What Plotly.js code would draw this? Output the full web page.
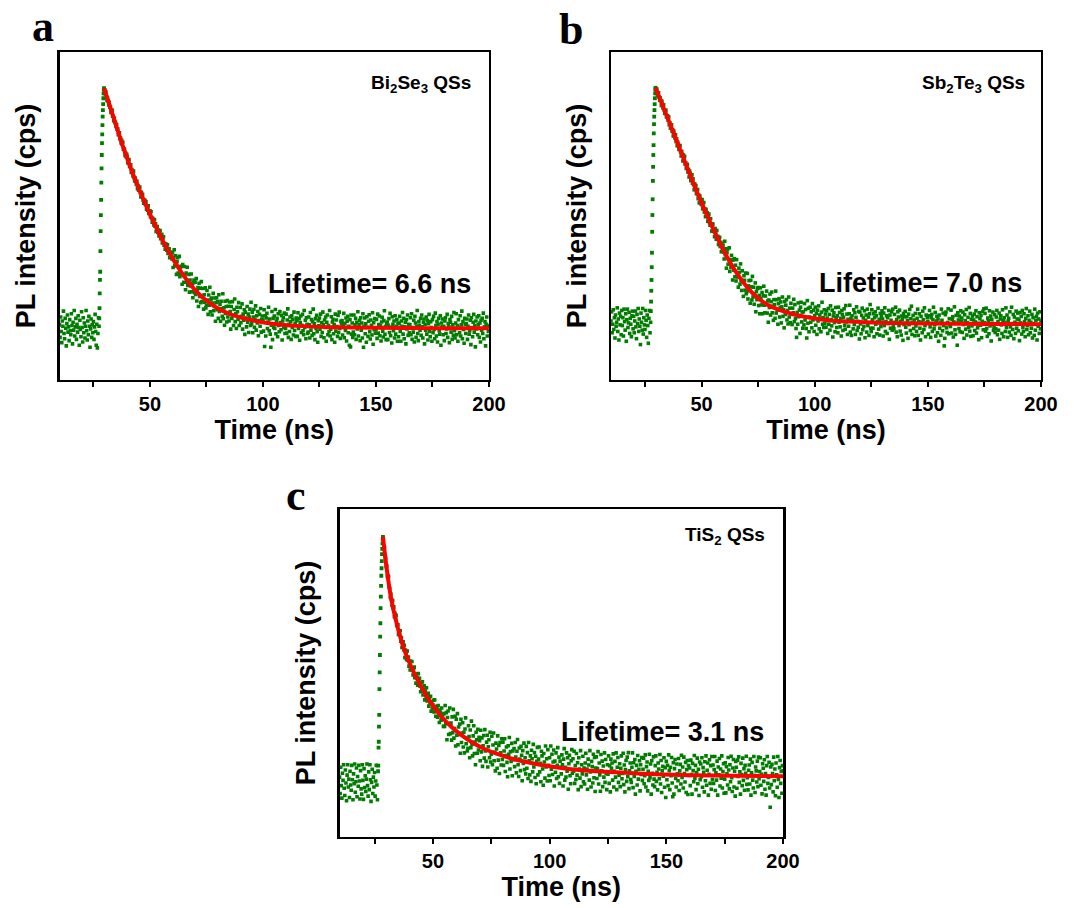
<!DOCTYPE html>
<html>
<head>
<meta charset="utf-8">
<script src="https://cdn.plot.ly/plotly-3.0.1.min.js"></script>
<style>html,body{margin:0;padding:0;background:#fff;}#chart{width:1082px;height:908px;}</style>
</head>
<body>
<div id="chart"></div>
<script>
// ---------- shared time axis ----------
const xTickValsNs = [50, 100, 150, 200];
const xMinorTickValsNs = [25, 75, 125, 175];
const channelWidthNs = 0.25;       // TCSPC channel width of the sampled counts
const preStartNs = 10.0;           // first channel of every pre-pulse array

// ---------- (a) Bi2Se3 QSs ----------
const biSePre = [168,130,192,148,114,180,164,210,142,126,188,158,104,172,198,146,162,120,184,150,
138,202,166,110,176,152,212,134,162,188,124,170,146,196,160,106,182,154,132,208,
160,116,190,144,174,128,164,212,150,122,180,138,194,164,100,156,186,130,168,144,
178,124,162,200,148,106,170,98,142,190,164];
const biSeRiseTime = [27.6,27.7,27.8,27.9,28.0,28.1,28.2,28.3,28.4,28.5,28.6,28.7,28.8,28.9,29.0,29.1,29.2,29.3,29.4,29.5,29.6,29.7,29.8];
const biSeRise = [188,219,264,305,330,393,454,503,549,602,645,686,722,749,777,803,823,841,859,874,887,890,884];
const biSeDecayStartNs = 30.0;
const biSeDecay = [885,872,879,864,852,860,851,839,847,832,834,816,821,823,804,804,791,799,785,786,
773,779,765,766,748,753,754,735,738,723,731,718,725,704,705,703,685,692,681,688,
681,662,669,672,652,651,656,633,642,636,622,637,617,607,616,608,596,606,583,593,
579,586,588,571,558,572,563,566,548,539,548,548,535,544,521,528,518,531,508,516,
516,497,513,494,481,493,485,473,489,469,476,453,465,468,450,457,439,447,456,431,
432,444,418,431,437,411,416,399,415,408,396,412,386,393,400,373,389,379,389,369,
388,343,374,397,348,379,351,322,361,373,326,346,377,315,344,324,347,292,352,319,
298,346,319,275,326,298,344,288,302,322,268,305,287,323,269,293,251,297,305,266,
298,261,309,241,273,282,224,295,255,280,236,300,239,255,279,216,260,237,281,220,
228,273,244,200,259,228,283,208,245,250,198,235,264,211,224,250,179,236,251,214,
239,188,260,209,230,179,240,217,194,263,187,220,167,240,203,224,177,242,192,225,
180,238,209,155,224,188,239,197,166,215,247,178,202,157,222,208,185,236,166,193,
221,175,194,232,155,201,182,214,139,207,189,162,224,176,201,145,192,216,166,237,
171,207,144,192,215,161,185,226,152,196,174,209,135,181,200,164,218,146,185,195,
183,149,214,102,196,134,189,203,157,177,222,150,186,140,100,167,209,123,188,160,
195,157,215,141,178,188,132,202,166,147,209,175,153,197,122,180,190,160,204,142,
157,201,143,183,217,130,170,148,192,178,124,196,160,185,137,207,151,173,133,189,
181,133,205,157,187,121,175,195,145,167,200,150,138,212,160,182,126,190,170,142,
146,192,168,128,206,152,184,136,178,216,141,171,123,187,157,197,147,115,181,165,
189,155,201,133,175,145,207,169,129,183,160,192,118,176,198,138,166,148,212,134,
155,193,123,177,185,141,169,115,201,149,183,163,133,197,145,207,157,127,179,171,
181,137,167,203,129,173,151,189,119,179,194,144,164,106,184,101,198,140,174,130,
146,198,138,168,188,124,176,156,208,134,170,182,120,190,152,174,128,202,100,164,
189,141,171,115,193,161,133,179,199,147,125,183,167,137,205,109,175,153,187,143,
155,185,127,201,143,169,195,135,165,119,177,191,149,131,181,211,139,163,123,173,
177,123,167,187,145,203,135,161,113,193,170,150,180,128,196,140,164,184,118,174,
132,172,194,148,118,180,164,206,140,188,126,162,176,110,184,156,198,136,170,144,
168,190,138,202,124,160,146,182,116,194,174,130,164,212,142,120,178,166,152,188,
136,198,162,128,176,186,110,170,152,192,140,182,122,172,200,148,132,178,160,118,
184,144,194,154,126,204,166,134,178,116,170,188,150,140,196,106,174,162,186,138,
164,120,180,190,142,156,200,130,172,162,114,184,176,146,194,124,168,136,206,150,
128,174,202,138,166,118,184,160,144,196,134,168,210,126,178,154,112,188,170,142,
172,186,124,164,198,140,150,182,108,190,160,132,176,200,146,166,101,180,156,192,
138,168,196,130,174,116,182,152,188,142,204,126,162,178,104,170,192,134,164,148,
166];
const biSeFitTime = [29.7,35.0,39.4,43.8,48.2,52.7,57.1,61.5,65.9,70.3,74.8,79.2,85.1,91.0,96.9,105,115,130,150,175,200];
const biSeFit = [890,777,686,605,534,466,406,354,309,272,243,222,202,189,180,171,165,161,159,158,158];

// ---------- (b) Sb2Te3 QSs ----------
const sbTePre = [180,208,144,170,214,154,190,128,198,164,176,220,148,186,122,204,168,194,138,212,
166,190,134,216,178,152,202,118,184,216,160,174,206,142,188,170,132,196,210,156,
194,144,180,210,162,126,200,172,218,148,186,164,108,204,176,152,218,140,190,168,
154,212,182,130,198,166,112,188,212,144,176];
const sbTeRiseTime = [27.6,27.7,27.8,27.9,28.0,28.1,28.2,28.3,28.4,28.5,28.6,28.7,28.8,28.9,29.0,29.1,29.2,29.3,29.4,29.5,29.6,29.7,29.8];
const sbTeRise = [210,239,272,305,344,388,452,503,551,607,650,686,716,752,780,803,823,841,859,874,887,891,885];
const sbTeDecayStartNs = 30.0;
const sbTeDecay = [881,887,868,875,876,862,853,860,852,837,850,840,829,839,823,813,821,823,802,805,
806,792,802,778,784,768,778,778,758,763,744,759,748,738,748,727,735,714,725,718,
703,713,715,695,683,697,688,668,686,672,682,658,662,645,657,657,634,642,619,637,
630,608,619,626,600,613,596,580,598,587,593,568,570,581,553,564,540,561,552,538,
535,550,522,530,541,512,522,498,520,502,510,484,498,506,480,472,492,476,454,476,
475,453,459,437,462,450,429,456,430,438,413,425,435,407,420,391,416,400,411,390,
369,423,382,400,341,388,399,353,368,403,331,366,343,380,366,305,366,335,370,315,
350,302,367,314,327,283,341,328,292,354,302,273,333,303,255,318,304,274,326,263,
269,325,247,287,303,273,234,304,284,244,316,253,283,231,263,296,208,270,245,279,
282,227,258,202,281,248,229,267,202,257,286,228,205,256,231,271,204,241,176,244,
221,262,198,239,268,205,225,182,245,230,188,271,204,245,213,170,233,248,192,221,
238,174,223,253,194,214,159,239,200,228,245,183,212,171,253,192,219,175,234,200,
169,219,205,246,178,230,187,157,130,206,170,235,193,213,142,222,237,177,207,158,
208,168,233,183,215,157,128,242,173,219,147,192,222,176,208,159,233,183,213,148,
196,222,167,203,139,213,180,226,156,198,187,147,207,237,170,190,160,214,173,201,
161,211,189,142,218,170,200,152,226,184,165,213,131,195,205,175,147,221,190,160,
196,144,222,176,206,162,188,134,212,200,151,191,217,167,155,227,177,201,139,185,
164,202,228,146,188,136,196,182,156,214,169,205,139,191,223,151,179,161,209,125,
207,171,141,197,219,153,189,163,211,129,182,198,146,216,166,192,136,202,230,158,
148,214,184,158,202,132,190,208,170,196,141,177,219,155,185,137,203,163,193,211,
186,134,204,166,220,148,178,196,142,190,172,212,124,198,158,182,208,152,216,162,
156,200,176,222,146,184,132,208,192,166,213,149,179,137,195,185,121,203,169,193,
209,161,143,193,181,127,201,169,215,151,187,225,139,175,197,157,183,135,203,165,
148,188,216,136,178,202,158,122,194,176,144,210,184,154,220,166,132,198,174,190,
178,140,196,212,162,130,190,200,148,184,222,156,168,206,134,180,194,144,186,118,
198,158,174,136,216,182,150,204,166,104,127,199,207,159,145,175,217,141,187,169,
163,213,143,185,193,131,177,223,153,139,197,173,106,205,183,157,195,147,211,179,
189,145,207,169,127,199,181,155,215,137,175,191,161,221,149,203,133,185,165,195,
135,183,201,151,177,211,143,193,159,173,123,205,187,167,197,129,179,209,153,217,
175,203,149,219,157,133,189,181,141,211,165,195,119,185,173,207,151,161,199,145,
156,192,212,138,178,152,204,124,186,196,168,142,214,182,132,190,176,148,220,160,
198,130,180,188,146,208,162,136,222,172,154,200,126,192,176,142,210,158,186,204,
150,184,120,206,174,194,140,212,160,148,202,178,132,188,218,154,166,196,138,182,
210,144,176,158,200,128,190,172,136,216,152,182,194,122,204,164,186,142,208,156,
180];
const sbTeFitTime = [29.7,34.9,39.3,43.8,48.2,52.7,57.1,61.5,66.0,70.4,74.9,79.3,83.8,89.7,95.6,105,115,130,150,175,200];
const sbTeFit = [890,801,724,645,569,498,432,372,321,281,250,229,215,202,193,183,178,174,172,171,170];

// ---------- (c) TiS2 QSs ----------
const tiSPre = [182,132,212,156,118,194,172,220,148,126,204,164,110,188,220,152,176,120,200,158,
142,218,174,113,192,162,222,136,168,210,122,184,154,218,170,115,202,146,130,220,
172,114,208,150,186,138,176,222,156,124,198,144,220,174,108,166,206,132,182,152,
196,124,170,218,158,113];
const tiSRiseTime = [26.5,26.6,26.7,26.8,26.9,27.0,27.1,27.2,27.3,27.4,27.5,27.6,27.7,27.8,27.9,28.0,28.1,28.2,28.3,28.4,28.5,28.6];
const tiSRise = [200,217,272,290,336,372,451,502,555,611,652,698,733,766,797,820,842,863,879,896,909,916];
const tiSDecayStartNs = 28.75;
const tiSDecay = [910,885,884,856,850,
825,827,795,798,794,763,759,731,741,724,706,721,697,702,672,682,667,676,645,648,
647,618,630,617,629,597,608,578,592,595,571,585,547,570,559,541,567,540,549,521,
537,509,535,511,535,508,494,513,518,486,497,469,497,485,463,498,464,484,460,443,
472,446,473,433,451,461,418,445,430,455,415,427,438,399,426,407,429,383,412,392,
403,417,381,418,383,368,398,390,365,401,375,349,387,379,356,393,359,373,337,376,
337,401,345,379,296,364,384,312,346,393,315,347,295,366,318,389,301,330,368,277,
359,310,376,281,335,312,344,255,359,288,317,348,274,319,256,329,363,284,301,262,
270,339,306,241,326,272,353,282,247,308,339,254,289,220,319,296,255,328,265,304,
293,232,325,259,302,215,278,309,240,327,262,230,289,310,213,275,296,241,319,228,
252,307,220,280,317,232,258,201,286,268,209,308,234,279,193,288,256,219,299,236,
289,218,262,299,199,248,274,227,183,278,252,303,207,260,230,285,186,262,235,269,
214,288,243,195,261,297,220,184,271,237,202,276,249,171,263,224,286,205,241,192,
276,209,257,178,288,232,189,247,169,264,238,198,282,213,257,181,246,162,230,273,
189,237,274,198,224,168,261,247,207,157,254,228,179,277,213,238,170,266,218,187,
241,171,277,206,252,190,228,265,155,231,197,256,178,218,272,183,243,163,231,212,
192,250,220,155,237,269,173,212,182,256,200,241,145,223,249,186,162,232,266,194,
238,200,261,163,217,175,254,188,226,144,241,207,179,263,153,220,192,246,168,210,
161,225,255,189,207,145,237,219,173,263,198,152,230,214,164,252,180,242,138,210,
244,178,208,260,161,225,189,139,251,201,231,153,216,182,256,166,236,194,144,220,
191,247,163,217,137,237,209,225,173,253,152,200,230,182,256,144,212,242,166,188,
223,153,209,247,177,193,255,159,219,137,205,233,169,243,183,257,147,201,225,175,
166,212,256,150,226,184,236,130,200,218,158,248,176,206,232,140,220,190,242,172,
206,240,162,186,250,152,214,228,140,200,172,252,180,222,130,232,194,158,244,176,
153,217,247,169,197,143,225,207,177,251,161,233,135,201,215,185,241,151,211,120,
230,174,218,156,250,202,144,212,186,242,164,122,226,130,208,236,178,152,222,192,
171,239,141,201,221,161,249,181,213,149,243,193,167,227,135,205,233,129,217,187,
210,156,234,190,130,224,202,168,248,178,218,144,196,240,162,206,126,228,174,222,
183,241,151,211,197,137,229,171,247,157,203,225,127,191,235,163,217,145,245,175,
219,163,205,245,141,195,173,231,127,213,189,239,155,207,179,247,149,199,223,133,
176,226,134,214,192,158,242,204,146,220,168,246,180,138,210,236,152,200,124,230,
212,148,234,184,244,166,198,130,224,190,156,240,172,208,142,218,194,246,160,180,
143,203,219,161,237,127,195,227,173,149,245,187,135,213,201,167,231,153,243,177,
199,241,157,191,131,223,209,169,235,145,193,127,217,245,163,181,227,149,90,213,
159,221,193,137,243,171,207,125,225,189,151,245,175,120,211,233,163,199,133,217,
201];
const tiSFitTime = [28.6,30.0,32.1,35.0,37.8,40.7,45.0,49.3,53.6,57.9,62.1,66.4,72.1,77.9,83.6,92.1,100,109.3,120,130.7,145,160,180,200];
const tiSFit = [916,830,728,637,570,519,458,407,367,336,311,290,268,252,239,225,215,206,200,196,191,188,186,185];

// ---------- styling ----------
const GREEN = 'rgb(0,125,0)';
const RED = 'rgb(255,0,0)';
const SANS = 'Liberation Sans, Arial, sans-serif';
const SERIF = 'Liberation Serif, Times New Roman, serif';

function dots(extra, size) {
  return Object.assign({
    type: 'scatter', mode: 'markers', hoverinfo: 'skip', showlegend: false,
    marker: {symbol: 'square', size: size || 3.6, color: GREEN, line: {width: 0}}
  }, extra);
}

function panel(xa, ya, pre, riseT, rise, decayStart, decay, fitT, fit) {
  return [
    dots({xaxis: xa, yaxis: ya, y: pre, x0: preStartNs, dx: channelWidthNs}),
    dots({xaxis: xa, yaxis: ya, x: riseT, y: rise}, 3.8),
    dots({xaxis: xa, yaxis: ya, y: decay, x0: decayStart, dx: channelWidthNs}),
    {type: 'scatter', mode: 'lines', xaxis: xa, yaxis: ya, x: fitT, y: fit, hoverinfo: 'skip', showlegend: false,
     line: {color: RED, width: 4, shape: 'spline', smoothing: 0.7}}
  ];
}

const data = [].concat(
  panel('x', 'y', biSePre, biSeRiseTime, biSeRise, biSeDecayStartNs, biSeDecay, biSeFitTime, biSeFit),
  panel('x2', 'y2', sbTePre, sbTeRiseTime, sbTeRise, sbTeDecayStartNs, sbTeDecay, sbTeFitTime, sbTeFit),
  panel('x3', 'y3', tiSPre, tiSRiseTime, tiSRise, tiSDecayStartNs, tiSDecay, tiSFitTime, tiSFit)
);

function xAxis(domain, anchor) {
  return {
    domain: domain, anchor: anchor, range: [10, 200],
    tickmode: 'array', tickvals: xTickValsNs, ticktext: xTickValsNs.map(String),
    ticks: 'outside', ticklen: 5, tickwidth: 2, tickcolor: '#000',
    minor: {tickmode: 'array', tickvals: xMinorTickValsNs, ticks: 'outside', ticklen: 5, tickwidth: 2, tickcolor: '#000'},
    showline: true, mirror: true, linecolor: '#000', linewidth: 2.5,
    showgrid: false, zeroline: false, automargin: false,
    tickfont: {family: SANS, size: 20, color: '#000', weight: 'bold'},
    title: {text: 'Time (ns)', standoff: 6, font: {family: SANS, size: 27, color: '#000', weight: 'bold'}}
  };
}
function yAxis(domain, anchor) {
  return {
    domain: domain, anchor: anchor, range: [0, 1000],
    showticklabels: false, ticks: '',
    showline: true, mirror: true, linecolor: '#000', linewidth: 2.5,
    showgrid: false, zeroline: false, automargin: false,
    title: {text: 'PL intensity (cps)', standoff: 14, font: {family: SANS, size: 27, color: '#000', weight: 'bold'}}
  };
}

const rowTop = [0.5815, 0.9427];
const rowBottom = [0.0785, 0.4391];

function label(text, x, y, size, family, anchor) {
  return {text: text, xref: 'paper', yref: 'paper', x: x, y: y, xanchor: anchor || 'right', yanchor: 'middle',
          showarrow: false, font: {family: family || SANS, size: size, color: '#000', weight: 'bold'}};
}

const layout = {
  width: 1082, height: 908,
  margin: {l: 0, r: 0, t: 0, b: 0},
  paper_bgcolor: '#fff', plot_bgcolor: '#fff',
  showlegend: false,
  xaxis: xAxis([0.0550, 0.4519], 'y'),
  yaxis: yAxis(rowTop, 'x'),
  xaxis2: xAxis([0.5647, 0.9621], 'y2'),
  yaxis2: yAxis(rowTop, 'x2'),
  xaxis3: xAxis([0.3138, 0.7237], 'y3'),
  yaxis3: yAxis(rowBottom, 'x3'),
  annotations: [
    label('a', 0.0397, 0.9703, 44, SERIF, 'center'),
    label('b', 0.5277, 0.9670, 44, SERIF, 'center'),
    label('c', 0.2736, 0.4548, 44, SERIF, 'center'),
    label('Bi<sub>2</sub>Se<sub>3</sub> QSs', 0.4372, 0.9075, 19),
    label('Sb<sub>2</sub>Te<sub>3</sub> QSs', 0.9489, 0.9075, 19),
    label('TiS<sub>2</sub> QSs', 0.7089, 0.4097, 19),
    label('Lifetime= 6.6 ns', 0.4372, 0.6872, 27),
    label('Lifetime= 7.0 ns', 0.9464, 0.6883, 27),
    label('Lifetime= 3.1 ns', 0.7079, 0.1938, 27)
  ]
};

Plotly.newPlot('chart', data, layout, {displayModeBar: false, staticPlot: true});
</script>
</body>
</html>
